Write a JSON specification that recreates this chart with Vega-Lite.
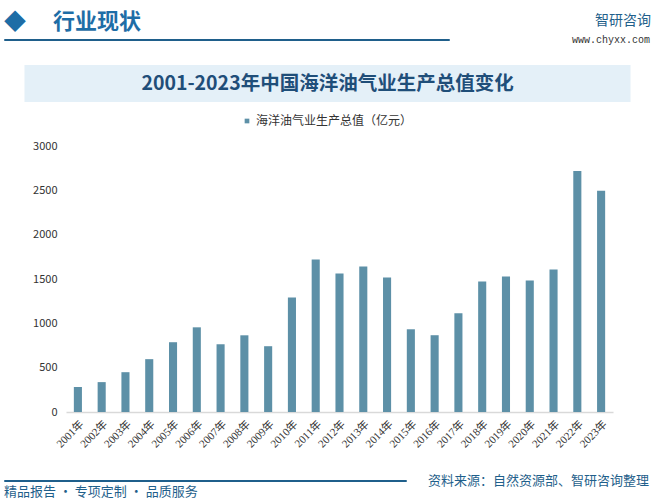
{
  "$schema": "https://vega.github.io/schema/vega-lite/v6.json",
  "background": "white",
  "padding": {"left": 3, "right": 3, "top": 10, "bottom": 0},
  "config": {
    "font": "Noto Sans CJK SC",
    "view": {"stroke": null}
  },
  "center": true,
  "spacing": 20,
  "resolve": {"legend": {"color": "independent"}, "scale": {"color": "independent"}},
  "vconcat": [
    {
      "bounds": "flush",
      "spacing": 122,
      "hconcat": [
        {
          "width": 445,
          "height": 1,
          "view": {"stroke": "#1F5F8B", "strokeWidth": 1},
          "title": {"text": " ◆　 行业现状", "anchor": "start", "fontSize": 22, "fontWeight": "bold", "color": "#1E6DA6", "offset": 5},
          "data": {"values": []},
          "mark": "text"
        },
        {
          "width": 80,
          "height": 1,
          "title": {"text": "智研咨询", "anchor": "end", "fontSize": 14, "fontWeight": "normal", "color": "#1F5F8B", "offset": 7},
          "data": {"values": [{"u": "www.chyxx.com"}]},
          "mark": {"type": "text", "font": "Liberation Mono", "fontSize": 10, "color": "#333333"},
          "encoding": {"text": {"field": "u", "type": "nominal"}}
        }
      ]
    },
    {
      "center": true,
      "spacing": 11,
      "resolve": {"legend": {"color": "independent"}, "scale": {"color": "independent"}},
      "vconcat": [
        {
          "width": 606,
          "height": 37,
          "view": {"fill": "#E4F0F8", "stroke": null},
          "data": {"values": [{"t": "2001-2023年中国海洋油气业生产总值变化"}]},
          "mark": {"type": "text", "fontSize": 19.5, "fontWeight": "bold", "color": "#1F4E79"},
          "encoding": {"text": {"field": "t", "type": "nominal"}}
        },
        {
          "center": true,
          "spacing": 24,
          "resolve": {"legend": {"color": "independent"}, "scale": {"color": "independent"}},
          "vconcat": [
            {
              "width": 571,
              "height": 266,
              "data": {
                "values": [
                  {"year": "2001年", "value": 281},
                  {"year": "2002年", "value": 337},
                  {"year": "2003年", "value": 449},
                  {"year": "2004年", "value": 596},
                  {"year": "2005年", "value": 787},
                  {"year": "2006年", "value": 955},
                  {"year": "2007年", "value": 764},
                  {"year": "2008年", "value": 865},
                  {"year": "2009年", "value": 742},
                  {"year": "2010年", "value": 1292},
                  {"year": "2011年", "value": 1719},
                  {"year": "2012年", "value": 1562},
                  {"year": "2013年", "value": 1641},
                  {"year": "2014年", "value": 1517},
                  {"year": "2015年", "value": 933},
                  {"year": "2016年", "value": 866},
                  {"year": "2017年", "value": 1113},
                  {"year": "2018年", "value": 1472},
                  {"year": "2019年", "value": 1528},
                  {"year": "2020年", "value": 1483},
                  {"year": "2021年", "value": 1607},
                  {"year": "2022年", "value": 2719},
                  {"year": "2023年", "value": 2494}
                ]
              },
              "mark": {"type": "bar", "color": "#5D90A7"},
              "encoding": {
                "x": {
                  "field": "year",
                  "type": "nominal",
                  "sort": null,
                  "scale": {"paddingInner": 0.66, "paddingOuter": 0.33, "range": [24, 571]},
                  "axis": {
                    "title": null,
                    "labelAngle": -45,
                    "labelAlign": "right",
                    "labelBaseline": "top",
                    "labelFontSize": 11,
                    "labelFont": "Liberation Serif, Noto Sans CJK SC",
                    "labelColor": "#333333",
                    "labelPadding": 6,
                    "ticks": false,
                    "domainColor": "#D9D9D9",
                    "domainWidth": 1.5
                  }
                },
                "y": {
                  "field": "value",
                  "type": "quantitative",
                  "scale": {"domain": [0, 3000]},
                  "axis": {
                    "title": null,
                    "values": [0, 500, 1000, 1500, 2000, 2500, 3000],
                    "format": "d",
                    "grid": false,
                    "domain": false,
                    "ticks": false,
                    "labelFontSize": 11,
                    "labelColor": "#333333",
                    "labelPadding": 9,
                    "offset": -24
                  }
                },
                "color": {
                  "datum": "海洋油气业生产总值（亿元）",
                  "type": "nominal",
                  "scale": {"range": ["#5D90A7"]},
                  "legend": {
                    "orient": "none",
                    "legendX": 197,
                    "legendY": -33,
                    "title": null,
                    "symbolType": "square",
                    "symbolSize": 22,
                    "labelFontSize": 12,
                    "labelColor": "#333333",
                    "labelOffset": 3,
                    "padding": 2
                  }
                }
              }
            },
            {
              "bounds": "flush",
              "spacing": 20,
              "hconcat": [
                {
                  "width": 402,
                  "height": 1,
                  "view": {"stroke": "#1F5F8B", "strokeWidth": 1},
                  "title": {"text": "精品报告 · 专项定制 · 品质服务", "orient": "bottom", "anchor": "start", "fontSize": 13, "fontWeight": "normal", "color": "#1F5F8B", "offset": 5},
                  "data": {"values": []},
                  "mark": "text"
                },
                {
                  "width": 225,
                  "height": 1,
                  "data": {"values": [{"s": "资料来源：自然资源部、智研咨询整理"}]},
                  "mark": {"type": "text", "fontSize": 13, "color": "#1F5F8B"},
                  "encoding": {"text": {"field": "s", "type": "nominal"}}
                }
              ]
            }
          ]
        }
      ]
    }
  ]
}
